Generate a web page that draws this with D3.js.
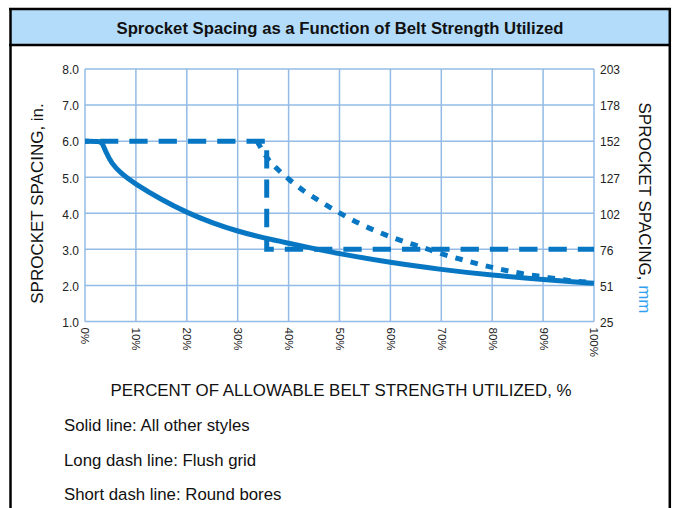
<!DOCTYPE html>
<html>
<head>
<meta charset="utf-8">
<script src="https://cdn.jsdelivr.net/npm/d3@7"></script>
<style>
  html, body { margin: 0; padding: 0; background: #fff; }
  svg { display: block; font-family: "Liberation Sans", Arial, Helvetica, sans-serif; }
</style>
</head>
<body>
<svg id="chart" width="673" height="508"></svg>
<script>
// ---- data ----
const chartTitle = "Sprocket Spacing as a Function of Belt Strength Utilized";
const xTickValues = [0, 10, 20, 30, 40, 50, 60, 70, 80, 90, 100];
const yTickValues = [1, 2, 3, 4, 5, 6, 7, 8];
const yTickLabelsMm = ["25", "51", "76", "102", "127", "152", "178", "203"];

// Solid line: All other styles
const solidX = [0, 3.0, 3.4, 4.2, 5.2, 7, 10, 15, 20, 25, 30, 35, 40, 45, 50, 60, 70, 80, 90, 100];
const solidY = [6.0, 6.0, 5.95, 5.67, 5.39, 5.11, 4.8, 4.38, 4.02, 3.73, 3.5, 3.32, 3.17, 3.02, 2.88, 2.63, 2.44, 2.28, 2.16, 2.06];

// Long dash line: Flush grid
const longX = [0, 35.7, 35.7, 100];
const longY = [6.0, 6.0, 3.0, 3.0];

// Short dash line: Round bores
const shortX = [33.8, 36, 38, 40, 43, 46, 50, 54, 58, 62, 66, 70, 75, 80, 85, 90, 95, 100];
const shortY = [6.0, 5.5, 5.2, 4.95, 4.62, 4.35, 4.01, 3.71, 3.46, 3.25, 3.07, 2.88, 2.68, 2.5, 2.35, 2.24, 2.14, 2.08];

const legendLines = ["Solid line: All other styles", "Long dash line: Flush grid", "Short dash line: Round bores"];

// ---- drawing ----
const svg = d3.select("#chart");
const lineColor = "#0877c3";
const gridColor = "#93bbe6";

// frame + title band
svg.append("rect").attr("x", 10).attr("y", 9).attr("width", 660).attr("height", 36).attr("fill", "#b3dcfa");
const frame = svg.append("g").attr("stroke", "#000").attr("stroke-width", 2.5).attr("fill", "none");
frame.append("line").attr("x1", 10.5).attr("x2", 10.5).attr("y1", 8).attr("y2", 510);
frame.append("line").attr("x1", 669.8).attr("x2", 669.8).attr("y1", 8).attr("y2", 510);
frame.append("line").attr("x1", 9).attr("x2", 671).attr("y1", 9).attr("y2", 9);
frame.append("line").attr("x1", 9).attr("x2", 671).attr("y1", 45).attr("y2", 45);

svg.append("text").attr("x", 340).attr("y", 34).attr("text-anchor", "middle")
  .attr("font-size", 16.7).attr("font-weight", "bold").attr("fill", "#111").text(chartTitle);

const x = d3.scaleLinear().domain([0, 100]).range([85, 594]);
const y = d3.scaleLinear().domain([1, 8]).range([321.5, 69]);

// grid
const grid = svg.append("g").attr("stroke", gridColor).attr("stroke-width", 1.5);
xTickValues.forEach(v => grid.append("line").attr("x1", x(v)).attr("x2", x(v)).attr("y1", y(8)).attr("y2", y(1)));
yTickValues.forEach(v => grid.append("line").attr("x1", x(0)).attr("x2", x(100)).attr("y1", y(v)).attr("y2", y(v)));

// axes (labels only)
const yAxisL = svg.append("g").attr("transform", `translate(${x(0)},0)`)
  .call(d3.axisLeft(y).tickValues(yTickValues).tickFormat(d3.format(".1f")).tickSize(0).tickPadding(6));
const yAxisR = svg.append("g").attr("transform", `translate(${x(100)},0)`)
  .call(d3.axisRight(y).tickValues(yTickValues).tickFormat((d, i) => yTickLabelsMm[i]).tickSize(0).tickPadding(6));
[yAxisL, yAxisR].forEach(g => {
  g.select(".domain").remove();
  g.selectAll("text").attr("font-size", 12).attr("fill", "#222")
    .attr("font-family", "'Liberation Sans', Arial, sans-serif").attr("dy", "0.4em");
});

const xAxis = svg.append("g").attr("transform", `translate(0,${y(1)})`)
  .call(d3.axisBottom(x).tickValues(xTickValues).tickFormat(d => d + "%").tickSize(0));
xAxis.select(".domain").remove();
xAxis.selectAll("text")
  .attr("font-size", 11.5).attr("fill", "#222").attr("font-family", "'Liberation Sans', Arial, sans-serif")
  .attr("text-anchor", "start").attr("y", 0).attr("x", 0).attr("dy", "0.35em")
  .attr("transform", "translate(0,6) rotate(90)");

// lines
const solidData = solidX.map((v, i) => [v, solidY[i]]);
const longData = longX.map((v, i) => [v, longY[i]]);
const shortData = shortX.map((v, i) => [v, shortY[i]]);

svg.append("path").datum(longData)
  .attr("d", d3.line().x(d => x(d[0])).y(d => y(d[1])).curve(d3.curveLinear))
  .attr("fill", "none").attr("stroke", lineColor).attr("stroke-width", 5)
  .attr("stroke-dasharray", "18.3,11").attr("stroke-dashoffset", 14.3);

svg.append("path").datum(shortData)
  .attr("d", d3.line().x(d => x(d[0])).y(d => y(d[1])).curve(d3.curveMonotoneX))
  .attr("fill", "none").attr("stroke", lineColor).attr("stroke-width", 5)
  .attr("stroke-dasharray", "7.5,8.2");

svg.append("path").datum(solidData)
  .attr("d", d3.line().x(d => x(d[0])).y(d => y(d[1])).curve(d3.curveBasis))
  .attr("fill", "none").attr("stroke", lineColor).attr("stroke-width", 5);

// axis titles
svg.append("text").attr("transform", "translate(43,203.5) rotate(-90)").attr("text-anchor", "middle")
  .attr("font-size", 17).attr("fill", "#111").text("SPROCKET SPACING, in.");

const rt = svg.append("text").attr("transform", "translate(638.5,208) rotate(90)").attr("text-anchor", "middle")
  .attr("font-size", 17).attr("fill", "#111");
rt.append("tspan").text("SPROCKET SPACING, ");
rt.append("tspan").attr("fill", "#2fa0f0").text("mm");

svg.append("text").attr("x", 341).attr("y", 395.5).attr("text-anchor", "middle")
  .attr("font-size", 16.9).attr("fill", "#111").text("PERCENT OF ALLOWABLE BELT STRENGTH UTILIZED, %");

// legend text
svg.selectAll("text.legend").data(legendLines).enter().append("text").attr("class", "legend")
  .attr("x", 64).attr("y", (d, i) => 431 + i * 34.5)
  .attr("font-size", 16.8).attr("fill", "#111").text(d => d);
</script>
</body>
</html>
